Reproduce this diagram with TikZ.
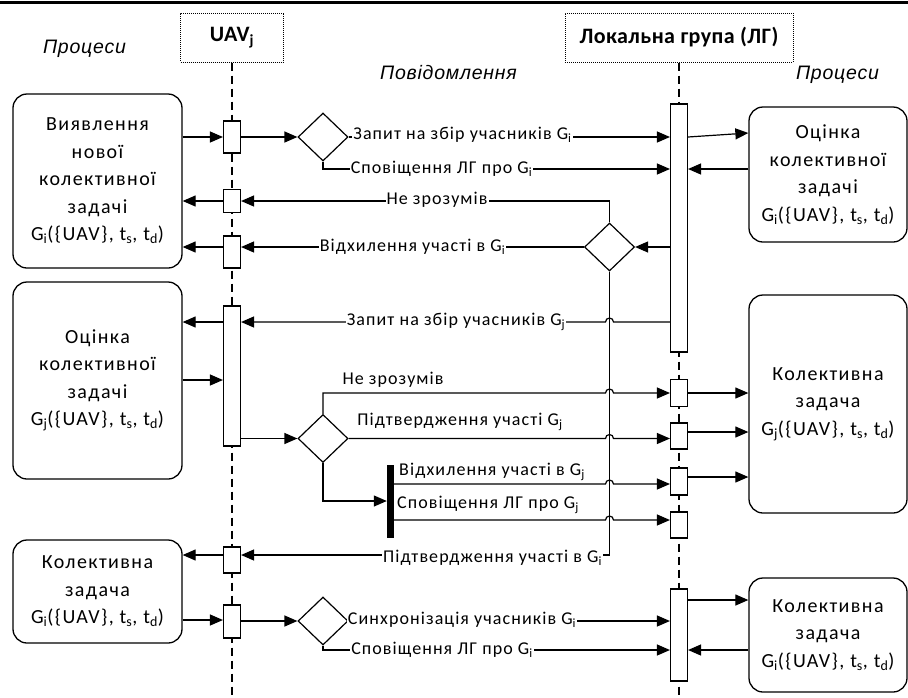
\documentclass[tikz,border=0pt]{standalone}
\usepackage{fontspec}
\setmainfont{Carlito}
\newfontfamily\boxfont{Carlito}[LetterSpace=7]
\newfontfamily\lblfont{Carlito}[LetterSpace=6]
\newfontfamily\hdrfont{Carlito}[LetterSpace=2]
\newfontfamily\itfont{Liberation Sans}[LetterSpace=4]
\usetikzlibrary{shapes.geometric,arrows.meta}
\begin{document}
\begin{tikzpicture}[x=1pt,y=-1pt,
  pbox/.style={draw,rounded corners=14pt,line width=1.3pt,align=center,inner sep=0pt,font=\boxfont\fontsize{20}{27.5}\selectfont},
  abar/.style={draw,fill=white,line width=1.1pt,minimum width=17pt,inner sep=0pt},
  dmd/.style={draw,diamond,line width=1.2pt,minimum width=50pt,minimum height=48pt,inner sep=0pt},
  hdrbox/.style={draw,densely dotted,line width=1pt,inner sep=0pt,font=\hdrfont\bfseries\fontsize{22}{24}\selectfont},
  lbl/.style={fill=white,inner sep=1pt,font=\lblfont\fontsize{18}{20}\selectfont},
  lbltop/.style={inner sep=0pt,font=\lblfont\fontsize{18}{20}\selectfont},
  ttl/.style={font=\itfont\itshape\fontsize{19.5}{21}\selectfont},
  arrw/.style={line width=1.2pt,-{Triangle[length=13pt,width=11pt]}},
  lifeln/.style={line width=1.1pt,dash pattern=on 8pt off 5pt}]
\useasboundingbox (0,0) rectangle (908,697);
\draw[line width=3pt] (0,2) -- (908,2);

% headers and titles
\node[hdrbox,minimum width=103pt,minimum height=49pt] (hU) at (232,37.5) {UAV\textsubscript{j}};
\node[hdrbox,minimum width=228pt,minimum height=49pt] (hL) at (679,37.5) {Локальна група (ЛГ)};
\node[ttl] (t1) at (84.5,49) {Процеси};
\node[ttl] (t2) at (448.5,73) {Повідомлення};
\node[ttl] (t3) at (837.5,75) {Процеси};

% lifelines
\coordinate (eU) at (232,697);
\coordinate (eL) at (679,697);
\draw[lifeln] (hU.south) -- (eU);
\draw[lifeln] (hL.south) -- (eL);

% activation bars
\node[abar,minimum height=32pt] (u1) at (232,137) {};
\node[abar,minimum height=23pt] (u2) at (232,201) {};
\node[abar,minimum height=32pt] (u3) at (232,252) {};
\node[abar,minimum height=140pt] (u4) at (232,376) {};
\node[abar,minimum height=26pt] (u5) at (232,560) {};
\node[abar,minimum height=33pt] (u6) at (232,621.5) {};
\node[abar,minimum height=248pt] (l1) at (679,228) {};
\node[abar,minimum height=27pt] (l2) at (679,393) {};
\node[abar,minimum height=26pt] (l3) at (679,436) {};
\node[abar,minimum height=27pt] (l4) at (679,481.5) {};
\node[abar,minimum height=26pt] (l5) at (679,525) {};
\node[abar,minimum height=92pt] (l6) at (679,635) {};

% process boxes
\node[pbox,minimum width=169pt,minimum height=174pt] (b1) at (97.5,181)
  {Виявлення\\нової\\колективної\\задачі\\G\textsubscript{i}(\{UAV\}, t\textsubscript{s}, t\textsubscript{d})};
\node[pbox,minimum width=169pt,minimum height=197pt] (b2) at (97.5,380.5)
  {Оцінка\\колективної\\задачі\\G\textsubscript{j}(\{UAV\}, t\textsubscript{s}, t\textsubscript{d})};
\node[pbox,minimum width=169pt,minimum height=103pt] (b3) at (97.5,591.5)
  {Колективна\\задача\\G\textsubscript{i}(\{UAV\}, t\textsubscript{s}, t\textsubscript{d})};
\node[pbox,minimum width=158pt,minimum height=135pt] (r1) at (828,174.5)
  {Оцінка\\колективної\\задачі\\G\textsubscript{i}(\{UAV\}, t\textsubscript{s}, t\textsubscript{d})};
\node[pbox,minimum width=158pt,minimum height=218pt] (r2) at (828,404)
  {Колективна\\задача\\G\textsubscript{j}(\{UAV\}, t\textsubscript{s}, t\textsubscript{d})};
\node[pbox,minimum width=158pt,minimum height=114pt] (r3) at (828,635)
  {Колективна\\задача\\G\textsubscript{i}(\{UAV\}, t\textsubscript{s}, t\textsubscript{d})};

% decisions and fork
\node[dmd] (d1) at (323,137) {};
\node[dmd] (d2) at (609.5,247) {};
\node[dmd] (d3) at (323,438.5) {};
\node[dmd] (d4) at (323,621) {};
\node[fill=black,minimum width=7pt,minimum height=73pt,inner sep=0pt] (fk) at (390.5,501.5) {};

\coordinate (hl) at ([xshift=-4pt]d2.south);
\coordinate (hr) at ([xshift=4pt]d2.south);

% connectors - top part
\draw[arrw] (b1.east |- u1) -- (u1.west);
\draw[arrw] (u1.east) -- (d1.west);
\draw[arrw] (d1.east) -- (d1.east -| l1.west);
\draw[arrw] (d1.south) |- (l1.west |- 0,169);
\draw[arrw] (l1.east |- 0,137) -- (r1.west |- 0,133);
\draw[arrw] (r1.west |- 0,169) -- (l1.east |- 0,169);
\draw[arrw] (d2.north) |- (u2.east);
\draw[arrw] (u2.west) -- (u2.west -| b1.east);
\draw[arrw] (l1.west |- d2) -- (d2.east);
\draw[arrw] (d2.west) -- (d2.west -| u3.east);
\draw[arrw] (u3.west |- d2) -- (b1.east |- d2);
\draw[arrw] (d2.south) |- (u5.east |- 0,555);
\draw[arrw] (u5.west |- 0,555) -- (b3.east |- 0,555);

% middle part with line hops
\draw[arrw] (l1.west |- 0,322) -- (hr |- 0,322) arc[start angle=0,end angle=180,radius=4pt] -- (u4.east |- 0,322);
\draw[arrw] (u4.west |- 0,322) -- (b2.east |- 0,322);
\draw[arrw] (b2.east |- 0,380) -- (u4.west |- 0,380);
\draw[arrw] (u4.east |- d3) -- (d3.west);
\draw[arrw] (d3.north) |- (hl |- l2) arc[start angle=180,end angle=0,radius=4pt] -- (l2.west);
\draw[arrw] (l2.east) -- (l2.east -| r2.west);
\draw[arrw] (d3.east) -- (hl |- d3) arc[start angle=180,end angle=0,radius=4pt] -- (l3.west |- d3);
\draw[arrw] (l3.east |- 0,432) -- (r2.west |- 0,432);
\draw[arrw] (d3.south) |- (fk.west |- 0,501);
\draw[arrw] (fk.east |- 0,484) -- (hl |- 0,484) arc[start angle=180,end angle=0,radius=4pt] -- (l4.west |- 0,484);
\draw[arrw] (l4.east |- 0,477) -- (r2.west |- 0,477);
\draw[arrw] (fk.east |- 0,520) -- (hl |- 0,520) arc[start angle=180,end angle=0,radius=4pt] -- (l5.west |- 0,520);

% bottom part
\draw[arrw] (b3.east |- 0,620) -- (u6.west |- 0,620);
\draw[arrw] (u6.east |- d4) -- (d4.west);
\draw[arrw] (d4.east) -- (d4.east -| l6.west);
\draw[arrw] (d4.south) |- (l6.west |- 0,650);
\draw[arrw] (l6.east |- 0,600) -- (r3.west |- 0,600);
\draw[arrw] (r3.west |- 0,650) -- (l6.east |- 0,650);

% message labels
\node[lbl] (m1) at (462.5,135) {Запит на збір учасників G\textsubscript{i}};
\node[lbl] (m2) at (441.5,169) {Сповіщення ЛГ про G\textsubscript{i}};
\node[lbl] (m3) at (437,200) {Не зрозумів};
\node[lbl] (m4) at (412.5,247) {Відхилення участі в G\textsubscript{i}};
\node[lbl] (m5) at (456,322) {Запит на збір учасників G\textsubscript{j}};
\node[lbltop] (m6) at (393,380) {Не зрозумів};
\node[lbltop] (m7) at (460,422) {Підтвердження участі G\textsubscript{j}};
\node[lbltop] (m8) at (492,472) {Відхилення участі в G\textsubscript{j}};
\node[lbltop] (m9) at (488,505) {Сповіщення ЛГ про G\textsubscript{j}};
\node[lbl] (m10) at (492.5,558) {Підтвердження участі в G\textsubscript{i}};
\node[lbl] (m11) at (462,620) {Синхронізація учасників G\textsubscript{i}};
\node[lbl] (m12) at (442,650) {Сповіщення ЛГ про G\textsubscript{i}};
\end{tikzpicture}
\end{document}
